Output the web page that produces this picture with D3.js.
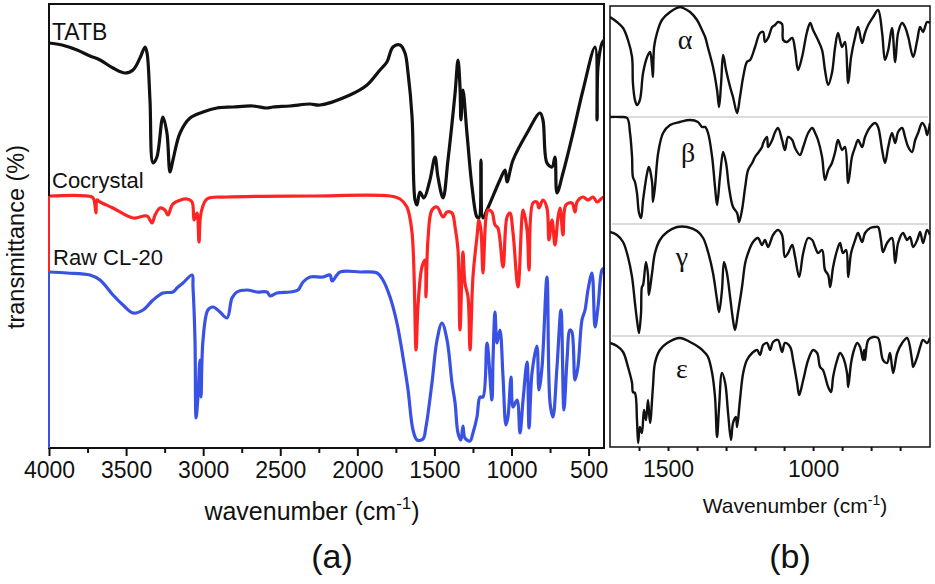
<!DOCTYPE html>
<html>
<head>
  <meta charset="utf-8">
  <title>FTIR spectra</title>
  <script src="https://cdn.jsdelivr.net/npm/d3@7/dist/d3.min.js"></script>
  <style>
    body { margin: 0; background: #fff; }
    svg text { font-family: "Liberation Sans", Arial, sans-serif; fill: #111; }
    .greek { font-family: "Liberation Serif", "Times New Roman", serif; }
  </style>
</head>
<body>
<svg id="chart" width="935" height="584"></svg>
<script>
// panel (a): [wavenumber cm-1, offset transmittance]
var tatb = [[4000,101.25],[3916,100.75],[3818,99.5],[3734,98],[3669,97],[3585,95],[3507,93.75],[3455,94.5],[3410,97.5],[3377,100.25],[3364,98.75],[3345,87],[3325,71.25],[3300,72.75],[3261,82.75],[3235,78.75],[3215,69],[3196,72],[3150,78.75],[3085,82.5],[3001,84],[2910,85],[2807,85.25],[2677,85.5],[2586,85],[2547,85.25],[2437,85.5],[2307,86],[2242,85.75],[2048,88.25],[1937,90.75],[1853,94.5],[1808,96.5],[1769,100.25],[1723,100.75],[1691,98.75],[1671,93.75],[1645,82.75],[1626,62],[1613,60.75],[1594,64],[1568,62.5],[1529,67],[1496,72.75],[1477,67.75],[1444,62.5],[1412,72],[1366,88.75],[1347,97],[1334,90.25],[1328,82],[1315,89.5],[1289,78.75],[1256,65.25],[1224,57.75],[1211,57.5],[1198,72],[1185,57.5],[1159,59.5],[1075,67],[1042,69.5],[1029,66.5],[990,72],[899,78.75],[815,83.75],[796,82],[770,71.25],[737,70.25],[718,72.75],[705,63.75],[666,68.75],[601,78.75],[536,89.5],[458,100.25],[445,82],[439,95.25],[413,101.25],[400,102]];

var cocrystal = [[4000,63],[3721,62.75],[3708,62],[3695,58.75],[3689,62],[3669,61.5],[3585,60],[3455,57.5],[3364,58],[3332,56.25],[3312,58.25],[3280,60],[3248,59.5],[3228,58.25],[3196,61],[3105,62.25],[3072,61.5],[3059,57],[3040,58.75],[3027,51.5],[3014,58.75],[2975,62.25],[2845,62.75],[2307,63],[1788,63],[1723,62.25],[1678,60.25],[1645,53.75],[1619,24.5],[1607,35.25],[1581,45.25],[1561,47],[1555,37.75],[1542,52],[1516,59.5],[1483,60.25],[1444,57.75],[1418,59],[1386,58.75],[1366,55.25],[1347,49.5],[1334,29.5],[1315,49],[1302,41.25],[1282,37.75],[1269,24.5],[1250,42.75],[1224,52.75],[1211,57],[1198,54.5],[1185,43.75],[1165,57.75],[1152,59.5],[1127,59],[1107,55.75],[1088,55],[1055,45.25],[1029,57.75],[1010,58.75],[990,53.75],[958,40.25],[932,57.75],[925,59.5],[899,54.5],[886,44.5],[861,61.25],[835,61.5],[822,60],[796,62],[770,60],[757,52],[737,57],[718,50.75],[698,57.75],[685,60],[666,53.25],[647,60.75],[608,61.25],[588,59],[575,61.5],[536,62.75],[504,62],[471,62.75],[445,61.5],[413,62.5],[400,62.75]];

var rawCL20 = [[4000,44],[3883,43.75],[3734,43.25],[3669,42],[3585,38.25],[3520,35.75],[3455,33.75],[3390,34.5],[3325,37],[3261,38.75],[3196,39],[3170,40],[3131,41.25],[3072,43.25],[3066,40.25],[3053,27],[3046,7.5],[3034,12.75],[3021,22],[3014,12.75],[3001,27],[2969,34.5],[2936,35.25],[2891,34],[2845,32.5],[2813,37.5],[2781,39],[2716,39.5],[2651,39],[2586,39],[2566,38],[2521,38.75],[2437,39],[2385,39.5],[2352,41.5],[2307,42.75],[2223,42.75],[2177,43.25],[2164,41.75],[2112,44],[1983,44],[1872,43.75],[1834,42],[1788,37.75],[1743,31.25],[1704,22.75],[1671,14.5],[1639,4.5],[1613,2],[1574,2.25],[1555,5.25],[1516,16.25],[1483,27],[1451,31.25],[1418,27],[1386,16.25],[1366,11.25],[1347,3.75],[1328,2],[1315,5.5],[1302,2.5],[1269,1.75],[1250,3.75],[1224,7.75],[1204,12.75],[1185,12.75],[1159,26.25],[1127,12],[1120,22],[1107,34],[1094,26.25],[1075,29.5],[1055,17.75],[1036,5.75],[1023,7.75],[1003,17.75],[990,10.25],[964,12],[945,3.75],[925,12],[899,21.5],[886,5],[867,18.75],[835,25.5],[822,14.5],[802,20.25],[770,42.75],[750,11.25],[731,7.75],[705,20.25],[679,34.5],[660,9.5],[640,22],[621,29.5],[608,29],[588,17],[569,20.25],[543,32],[523,34.5],[504,39.5],[478,43.75],[458,30.25],[439,35.25],[413,44.5],[400,45]];

// panel (b): CL-20 polymorphs, stacked
var alphaSpec = [[1700,215],[1676,212.5],[1655,209.5],[1638,203.5],[1624,195],[1621,182],[1614,173.5],[1607,171],[1597,173.5],[1586,187],[1572,195],[1562,197.5],[1555,190],[1552,185],[1548,200],[1538,207],[1521,213.5],[1493,217.5],[1459,220],[1448,219.5],[1424,217.5],[1400,213.5],[1383,208.5],[1372,205],[1362,199.5],[1345,190],[1331,178.5],[1324,170],[1317,182],[1310,196],[1300,188.5],[1286,180],[1276,175],[1262,167],[1252,175],[1241,185],[1228,192.5],[1217,193.5],[1200,200],[1183,207],[1172,207.5],[1166,202.5],[1155,204.5],[1141,210],[1131,211],[1121,212.5],[1107,211.5],[1103,203.5],[1090,202.5],[1072,204.5],[1062,198.5],[1052,188.5],[1038,195],[1021,207.5],[1010,212],[1000,208.5],[983,203.5],[969,198.5],[959,188.5],[948,181],[935,187],[924,200],[914,207],[900,200],[890,202.5],[879,182],[869,195],[855,205],[845,210],[831,202],[821,207],[810,211],[793,215],[776,218.5],[762,207],[752,193.5],[741,198.5],[728,209.5],[717,192.5],[707,207],[693,212],[683,210],[672,205],[655,195],[641,203.5],[631,210],[621,207.5],[607,212.5],[597,212]];

var betaSpec = [[1700,165],[1666,165],[1641,164.5],[1631,157],[1624,145],[1621,135],[1614,132.5],[1607,127],[1600,117],[1593,114.5],[1586,123.5],[1572,137],[1566,140],[1555,132.5],[1552,122.5],[1545,130],[1534,147],[1517,157],[1493,161],[1459,162.5],[1424,163.5],[1397,162.5],[1383,160],[1372,160],[1362,157],[1348,145],[1338,130],[1331,121],[1321,135],[1310,147.5],[1300,142],[1290,130],[1276,120],[1262,117],[1255,112.5],[1245,118.5],[1234,130],[1224,138.5],[1210,142],[1200,145],[1190,147],[1176,150],[1172,152],[1159,155],[1155,150],[1141,153.5],[1131,157.5],[1121,159.5],[1107,153.5],[1097,148.5],[1086,155],[1072,153.5],[1062,149.5],[1045,146],[1034,150],[1017,157],[1003,159.5],[993,157],[983,153.5],[969,145],[959,133.5],[948,138.5],[935,142],[924,147.5],[914,153.5],[900,148.5],[890,150],[879,132],[866,145],[855,150],[845,153.5],[831,150],[821,155],[803,160],[786,162],[776,160],[762,148.5],[752,142],[741,150],[728,157],[717,152],[707,157.5],[693,159.5],[683,155],[672,150],[659,147.5],[648,153.5],[638,157],[624,162],[614,160],[607,156],[597,162]];

var gammaSpec = [[1700,107.5],[1676,106],[1655,102.5],[1638,95],[1624,85],[1614,72],[1607,63.5],[1600,57],[1593,67],[1590,80],[1586,81],[1576,92.5],[1569,86],[1566,76],[1555,87],[1545,97],[1528,103.5],[1503,107.5],[1469,110],[1434,110],[1400,108],[1379,104.5],[1362,97.5],[1345,87],[1331,73.5],[1324,67.5],[1314,78.5],[1307,92.5],[1297,87],[1286,75],[1276,63.5],[1269,58.5],[1259,67],[1245,80],[1234,92],[1224,97],[1207,102.5],[1190,104.5],[1176,101],[1166,103.5],[1155,100],[1138,106],[1121,108.5],[1107,106],[1097,95],[1086,97],[1072,101],[1062,95],[1048,85],[1034,97],[1017,104.5],[1003,103.5],[993,100],[983,97],[969,98.5],[959,88.5],[948,86],[941,80],[931,90],[917,98.5],[907,102],[897,97],[886,98.5],[879,85],[869,97],[855,103.5],[845,107],[831,102.5],[821,107],[803,109.5],[786,110],[776,110],[766,103.5],[759,97.5],[745,102],[728,104.5],[717,92],[707,102],[690,107],[676,103.5],[666,105],[655,100],[641,103.5],[631,107.5],[621,102],[607,108.5],[597,106]];

var epsilonSpec = [[1700,52],[1676,50.5],[1655,47.5],[1638,40],[1624,32],[1621,27.5],[1614,27],[1607,13.5],[1603,2],[1597,10],[1590,7],[1583,18.5],[1576,13.5],[1569,23.5],[1562,12],[1552,30],[1545,42],[1528,48.5],[1503,52],[1459,54.5],[1424,52.5],[1390,49.5],[1372,47],[1362,45],[1348,37],[1338,25],[1331,5],[1324,20],[1314,37],[1303,32],[1293,17],[1283,3.5],[1276,12],[1266,15],[1262,10],[1252,23.5],[1241,37],[1228,43.5],[1210,47],[1193,48.5],[1183,46],[1172,51],[1159,52],[1148,48.5],[1138,52.5],[1121,53.5],[1107,47.5],[1097,52],[1079,50],[1069,43.5],[1055,32],[1048,26],[1034,33.5],[1017,43.5],[1000,48.5],[986,47],[976,40],[966,38.5],[948,30],[938,27.5],[931,35],[917,43.5],[907,47],[897,45],[883,37],[879,30],[869,42],[859,48.5],[848,52],[838,50],[828,43.5],[824,48.5],[821,43.5],[810,53.5],[793,55],[776,54.5],[759,43.5],[745,42],[735,47],[724,37],[710,47],[693,52],[676,54.5],[659,43.5],[655,40],[641,45],[631,50],[621,53.5],[607,52],[597,54.5]];

var ticksA = [4000, 3500, 3000, 2500, 2000, 1500, 1000, 500];
var minorA = [3750, 3250, 2750, 2250, 1750, 1250, 750];
var ticksB = [1600, 1500, 1400, 1300, 1200, 1100, 1000, 900, 800, 700];
var labelsB = [1500, 1000];
var bandEdges = [165, 111.5, 55.5];   // separators between stacked spectra in (b)

var svg = d3.select('#chart');
var curve = d3.curveCatmullRom.alpha(0.5);

// ---- panel (a)
var xA = d3.scaleLinear().domain([4000, 400]).range([49, 604]);
var yA = d3.scaleLinear().domain([0, 111]).range([448, 4]);

svg.append('clipPath').attr('id', 'clipA').append('rect')
  .attr('x', 49).attr('y', 4).attr('width', 555).attr('height', 444);

var lineA = d3.line().curve(curve)
  .x(function(d) { return xA(d[0]); }).y(function(d) { return yA(d[1]); });

var seriesA = [
  { data: tatb, color: '#111111' },
  { data: cocrystal, color: '#ff2424' },
  { data: rawCL20, color: '#3a52e4' }
];

svg.append('g').attr('clip-path', 'url(#clipA)').selectAll('path').data(seriesA).enter()
  .append('path')
  .attr('d', function(d) { return lineA(d.data); })
  .attr('fill', 'none')
  .attr('stroke', function(d) { return d.color; })
  .attr('stroke-width', 3.2)
  .attr('stroke-linejoin', 'round');

svg.append('rect')
  .attr('x', 49).attr('y', 4).attr('width', 555).attr('height', 444)
  .attr('fill', 'none').attr('stroke', '#111').attr('stroke-width', 2);

// coloured bits of the left edge where the curves start
svg.append('line').attr('x1', xA(4000)).attr('x2', xA(4000))
  .attr('y1', yA(cocrystal[0][1])).attr('y2', yA(rawCL20[0][1]))
  .attr('stroke', '#ff2424').attr('stroke-width', 2);
svg.append('line').attr('x1', xA(4000)).attr('x2', xA(4000))
  .attr('y1', yA(rawCL20[0][1])).attr('y2', yA(0))
  .attr('stroke', '#3a52e4').attr('stroke-width', 2);

var axA = svg.append('g').attr('transform', 'translate(0,448)')
  .call(d3.axisBottom(xA).tickValues(ticksA).tickSize(8).tickPadding(6).tickFormat(d3.format('d')));
axA.select('.domain').remove();
axA.selectAll('line').attr('stroke', '#111').attr('stroke-width', 2);
axA.selectAll('text').attr('font-size', 23).attr('font-family', '"Liberation Sans", Arial, sans-serif').attr('fill', '#111');

var axAm = svg.append('g').attr('transform', 'translate(0,448)')
  .call(d3.axisBottom(xA).tickValues(minorA).tickSize(5).tickFormat(''));
axAm.select('.domain').remove();
axAm.selectAll('line').attr('stroke', '#111').attr('stroke-width', 2);

svg.append('text').attr('x', 52).attr('y', 40).attr('font-size', 23).text('TATB');
svg.append('text').attr('x', 52).attr('y', 188).attr('font-size', 22).text('Cocrystal');
svg.append('text').attr('x', 53).attr('y', 265).attr('font-size', 22).text('Raw CL-20');

svg.append('text').attr('transform', 'translate(24,237) rotate(-90)')
  .attr('text-anchor', 'middle').attr('font-size', 23.5).text('transmittance (%)');

var tA = svg.append('text').attr('x', 312).attr('y', 520).attr('text-anchor', 'middle').attr('font-size', 25);
tA.append('tspan').text('wavenumber (cm');
tA.append('tspan').attr('dy', -11).attr('font-size', 17).text('-1');
tA.append('tspan').attr('dy', 11).text(')');

svg.append('text').attr('x', 332).attr('y', 568).attr('text-anchor', 'middle').attr('font-size', 34).text('(a)');

// ---- panel (b)
var xB = d3.scaleLinear().domain([1700, 597]).range([610, 930]);
var yB = d3.scaleLinear().domain([0, 220.5]).range([447, 6]);

svg.append('clipPath').attr('id', 'clipB').append('rect')
  .attr('x', 610).attr('y', 6).attr('width', 320).attr('height', 441);

svg.selectAll('line.sep').data(bandEdges).enter().append('line')
  .attr('class', 'sep')
  .attr('x1', 612).attr('x2', 928)
  .attr('y1', function(d) { return yB(d); }).attr('y2', function(d) { return yB(d); })
  .attr('stroke', '#cfcfcf').attr('stroke-width', 1.5);

var lineB = d3.line().curve(curve)
  .x(function(d) { return xB(d[0]); }).y(function(d) { return yB(d[1]); });

svg.append('g').attr('clip-path', 'url(#clipB)').selectAll('path')
  .data([alphaSpec, betaSpec, gammaSpec, epsilonSpec]).enter()
  .append('path')
  .attr('d', lineB)
  .attr('fill', 'none')
  .attr('stroke', '#111')
  .attr('stroke-width', 2.4)
  .attr('stroke-linejoin', 'round');

svg.append('rect')
  .attr('x', 610).attr('y', 6).attr('width', 320).attr('height', 441)
  .attr('fill', 'none').attr('stroke', '#111').attr('stroke-width', 1.5);

var axB = svg.append('g').attr('transform', 'translate(0,447)')
  .call(d3.axisBottom(xB).tickValues(ticksB).tickSize(4).tickPadding(10)
    .tickFormat(function(d) { return labelsB.indexOf(d) >= 0 ? d : ''; }));
axB.select('.domain').remove();
axB.selectAll('line').attr('stroke', '#111').attr('stroke-width', 2);
axB.selectAll('text').attr('font-size', 23).attr('font-family', '"Liberation Sans", Arial, sans-serif').attr('fill', '#111');

var greek = [['\u03b1', 685, 49], ['\u03b2', 688, 162], ['\u03b3', 682, 266], ['\u03b5', 682, 378]];
svg.selectAll('text.greek').data(greek).enter().append('text')
  .attr('class', 'greek')
  .attr('x', function(d) { return d[1]; }).attr('y', function(d) { return d[2]; })
  .attr('text-anchor', 'middle').attr('font-size', 28)
  .text(function(d) { return d[0]; });

var tB = svg.append('text').attr('x', 795).attr('y', 513).attr('text-anchor', 'middle').attr('font-size', 21);
tB.append('tspan').text('Wavenumber (cm');
tB.append('tspan').attr('dy', -8).attr('font-size', 14).text('-1');
tB.append('tspan').attr('dy', 8).text(')');

svg.append('text').attr('x', 790).attr('y', 568).attr('text-anchor', 'middle').attr('font-size', 34).text('(b)');
</script>
</body>
</html>
